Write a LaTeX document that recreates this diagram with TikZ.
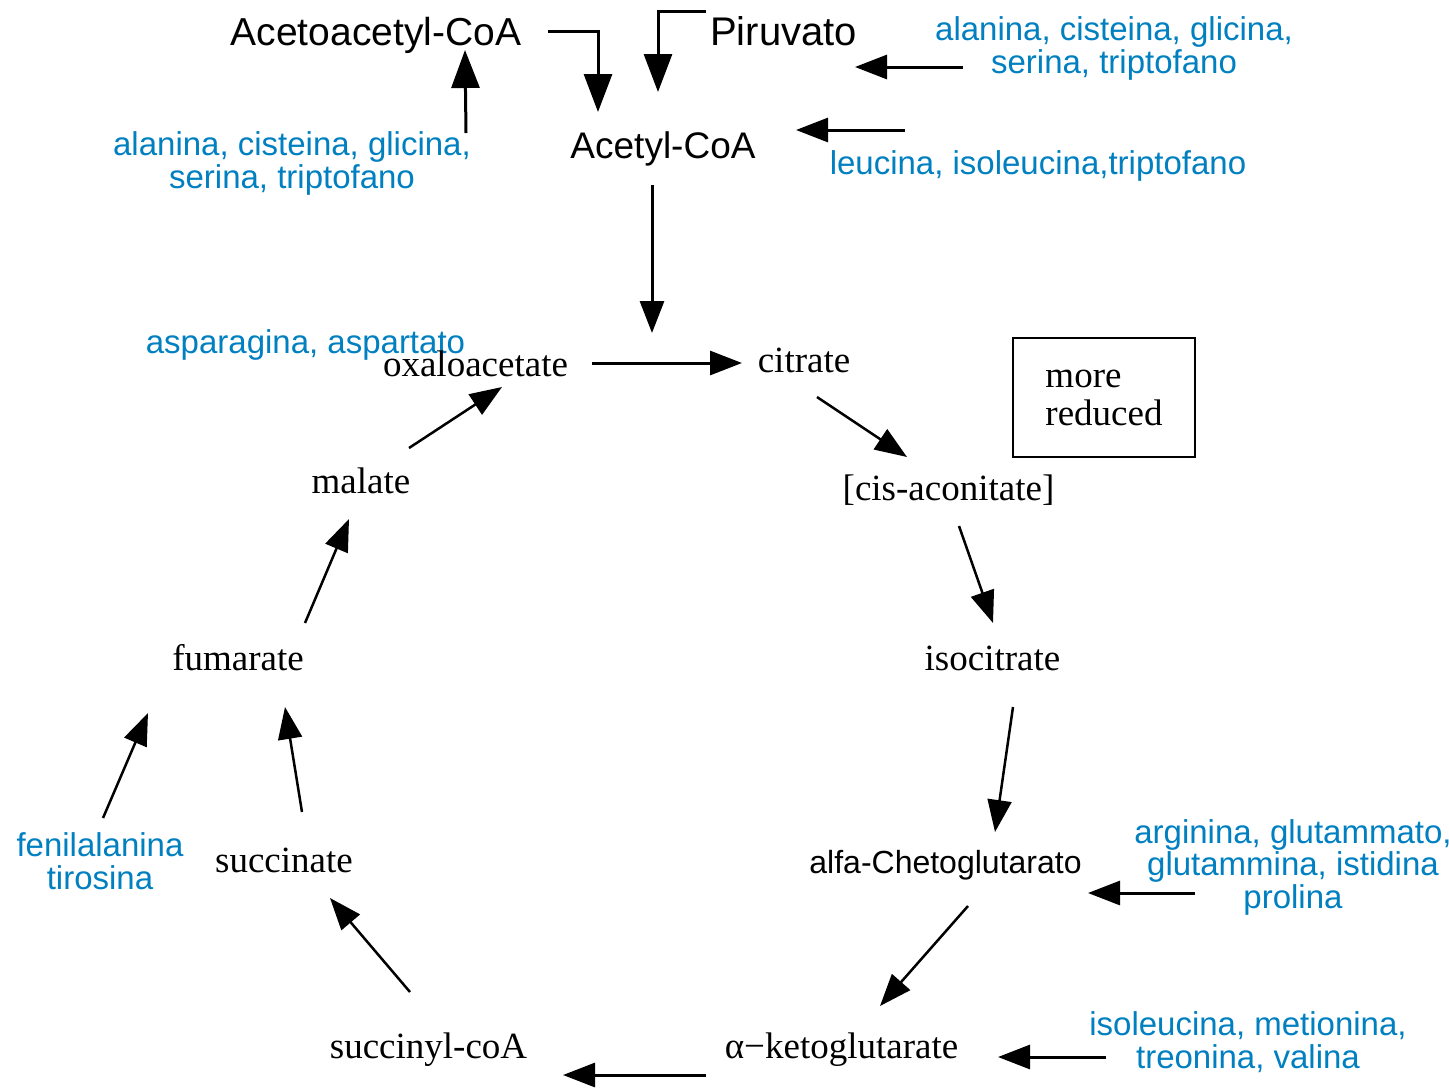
\documentclass[tikz,border=0pt]{standalone}
\usepackage{fontspec}
\setmainfont{Liberation Serif}
\setsansfont{Liberation Sans}
\usetikzlibrary{arrows.meta,calc}
\definecolor{aablue}{RGB}{0,128,192}
\begin{document}
\begin{tikzpicture}[x=1pt,y=-1pt,
  lab/.style={anchor=base,inner sep=0pt,font=\fontsize{37}{40}\selectfont},
  slab/.style={anchor=base,inner sep=0pt,font=\sffamily\fontsize{39}{42}\selectfont},
  aa/.style={anchor=base,inner sep=0pt,align=center,text=aablue,font=\sffamily\fontsize{33}{32.5}\selectfont},
  arr/.style={line width=3pt,-{Triangle[length=32pt,width=24pt]}},
  darr/.style={line width=2.5pt,-{Triangle[length=32pt,width=24pt]}},
  bigarr/.style={line width=3pt,-{Triangle[length=38pt,width=28pt]}}]
\useasboundingbox (0,0) rectangle (1449,1088);
\fill[white] (0,0) rectangle (1449,1088);
% top labels
\node[slab] (acac) at (376,45) {Acetoacetyl-CoA};
\node[slab,font=\sffamily\fontsize{40}{42}\selectfont] (piru) at (783.5,45) {Piruvato};
\node[slab,font=\sffamily\fontsize{37}{40}\selectfont] (acoa) at (663,158) {Acetyl-CoA};
% amino acid labels (base = baseline of the last line)
\node[aa] (btr) at (1114,73) {alanina, cisteina, glicina,\\serina, triptofano};
\node[aa] (bl) at (292,188) {alanina, cisteina, glicina,\\serina, triptofano};
\node[aa] (leu) at (1038,174) {leucina, isoleucina,triptofano};
\node[aa] (asp) at (305.5,353) {asparagina, aspartato};
\node[aa] (arg) at (1293,908) {arginina, glutammato,\\glutammina, istidina\\prolina};
\node[aa] (fen) at (100,889) {fenilalanina\\tirosina};
\node[aa] (ile) at (1248,1068) {isoleucina, metionina,\\treonina, valina};
% cycle
\node[lab] (oxalo) at (475.5,376) {oxaloacetate};
\node[lab] (cit) at (804,372) {citrate};
\node[lab] (cis) at (948.5,500) {[cis-aconitate]};
\node[lab] (iso) at (992.5,670) {isocitrate};
\node[slab,font=\sffamily\fontsize{32}{36}\selectfont] (alfa) at (945.5,873) {alfa-Chetoglutarato};
\node[lab] (akg) at (841.5,1058) {α−ketoglutarate};
\node[lab] (succoa) at (428.5,1058) {succinyl-coA};
\node[lab] (succ) at (284,872) {succinate};
\node[lab] (fum) at (238,670) {fumarate};
\node[lab] (mal) at (361,493) {malate};
\node[draw,line width=2.5pt,minimum width=182pt,minimum height=119pt,inner sep=0pt,
      align=left,font=\fontsize{37}{38}\selectfont] (box) at (1104,397.5) {more\\reduced};
% arrows at the top
\draw[bigarr] ($(acac.base)+(172,-14)$) -| ($(acoa.base)+(-65,-46)$);
\draw[bigarr] ($(piru.base)+(-77.5,-34)$) -| ($(acoa.base)+(-5,-66)$);
\draw[bigarr] ($(bl.base)+(174,-55)$) -- ($(acac.base)+(89,5)$);
\draw[arr] ($(btr.base)+(-151,-6)$) -- ($(piru.base)+(71.5,22)$);
\draw[arr] ($(leu.base)+(-133,-44)$) -- ($(acoa.base)+(133,-28)$);
\draw[arr] ($(acoa.base)+(-11,27)$) -- ($(acoa.base)+(-11,175)$);
% cycle arrows
\draw[arr] ($(oxalo.base)+(116.5,-13)$) -- ($(cit.base)+(-62,-9)$);
\draw[darr] ($(cit.base)+(13,25)$) -- ($(cis.base)+(-41.5,-43)$);
\draw[darr] ($(cis.base)+(10.5,26)$) -- ($(iso.base)+(0.5,-47)$);
\draw[darr] ($(iso.base)+(20.5,37)$) -- ($(alfa.base)+(49.5,-41)$);
\draw[arr] ($(arg.base)+(-98,-15)$) -- ($(alfa.base)+(142.5,20)$);
\draw[darr] ($(alfa.base)+(22.5,33)$) -- ($(akg.base)+(38.5,-52)$);
\draw[arr] ($(ile.base)+(-142,-11)$) -- ($(akg.base)+(156.5,-1)$);
\draw[arr] ($(akg.base)+(-135.5,17)$) -- ($(succoa.base)+(134.5,17)$);
\draw[darr] ($(succoa.base)+(-18.5,-66)$) -- ($(succ.base)+(46,26)$);
\draw[darr] ($(succ.base)+(18,-60)$) -- ($(fum.base)+(47,37)$);
\draw[darr] ($(fen.base)+(3,-71)$) -- ($(fum.base)+(-90,43)$);
\draw[darr] ($(fum.base)+(67,-47)$) -- ($(mal.base)+(-12,26)$);
\draw[darr] ($(mal.base)+(48,-45)$) -- ($(oxalo.base)+(26.5,11)$);
\end{tikzpicture}
\end{document}
